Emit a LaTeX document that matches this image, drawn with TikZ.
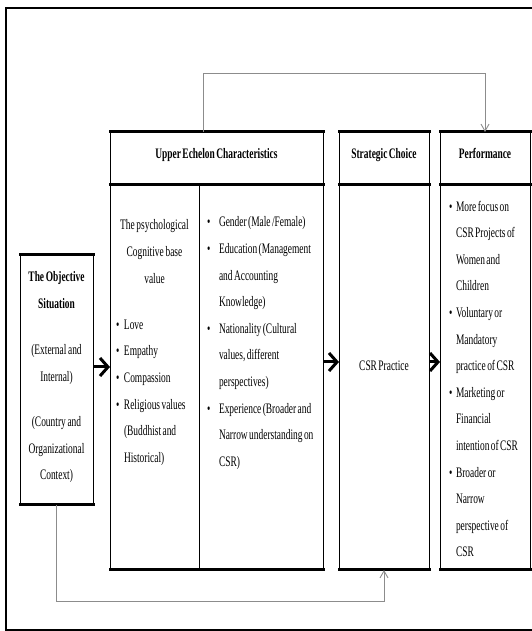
\documentclass[tikz,border=0pt]{standalone}
\usepackage{fontspec}
\setmainfont[FakeStretch=0.65, WordSpace=0.6]{Liberation Serif}
\usetikzlibrary{arrows.meta,positioning}
\newcommand\bitem[2][12pt]{\noindent\hangindent=#1\hangafter=1\rightskip=0pt plus 1fil\spaceskip=0pt\xspaceskip=0pt\makebox[#1][l]{\textbullet}#2\par}

\begin{document}
\begin{tikzpicture}[
    x=1pt, y=1pt,
    every node/.style={font=\fontsize{14.5}{26.6}\selectfont, inner sep=0pt, outer sep=0pt},
    box/.style={draw, line width=1pt},
    head/.style={box, minimum height=53pt, font=\fontsize{14.5}{26.6}\selectfont\bfseries, text height=10pt, text depth=10pt},
    body/.style={box, minimum height=385pt, anchor=north west},
    txt/.style={align=left, text width=#1, anchor=north west},
    rule/.style={line width=3pt, line cap=rect},
    arrow/.style={-{Straight Barb[length=8pt, width=18pt]}, line width=3pt},
    feedback/.style={-{Straight Barb[length=7pt, width=8pt]}, draw=black!45, line width=0.9pt}
]
\useasboundingbox (0,0) rectangle (531,631);
\draw[line width=2.5pt] (6,1) rectangle (560,623);

\node[head, minimum width=213pt] (uechead) at (216.5,472.5) {Upper Echelon Characteristics};
\node[head, minimum width=90pt, right=16pt of uechead] (schead) {Strategic Choice};
\node[head, minimum width=90pt, right=11pt of schead] (perfhead) {Performance};
\node[body, minimum width=89pt] (ueccog) at (uechead.south west) {};
\node[body, minimum width=124pt] (uecdemo) at (ueccog.north east) {};
\node[body, minimum width=90pt] (scbody) at (schead.south west) {};
\node[body, minimum width=90pt] (perfbody) at (perfhead.south west) {};
\node[box, minimum width=73pt, minimum height=250pt] (objective) at (56.5,251) {};

\node[txt=73pt, align=center, anchor=north] (situation) at (56.5,359.2)
    {\spaceskip=0pt{\bfseries The Objective\\Situation}\\[19.5pt](External and\\Internal)\\[19pt](Country and\\Organizational\\Context)};
\node[txt=84pt, align=center, anchor=north] (cogtitle) at (154.5,411.2) {\spaceskip=0pt The psychological\\Cognitive base\\value};
\node[txt=82pt] (cogvalues) at (116,311.2)
    {\bitem[8pt]{Love}\bitem[8pt]{Empathy}\bitem[8pt]{Compassion}\bitem[8pt]{Religious values\newline(Buddhist and\newline Historical)}};
\node[txt=120pt] (demovalues) at (207,414.2)
    {\bitem{Gender (Male /Female)}\bitem{Education (Management\newline and Accounting\newline Knowledge)}\bitem{Nationality (Cultural\newline values, different\newline perspectives)}\bitem{Experience (Broader and\newline Narrow understanding on\newline CSR)}};
\node (practice) at (384,265) {CSR Practice};
\node[txt=90pt] (perfitems) at (449,430.2)
    {\bitem[7pt]{More focus on\newline CSR Projects of\newline Women and\newline Children}\bitem[7pt]{Voluntary or\newline Mandatory\newline practice of CSR}\bitem[7pt]{Marketing or\newline Financial\newline intention of CSR}\bitem[7pt]{Broader or\newline Narrow\newline perspective of\newline CSR}};

\foreach \n in {objective,uechead,schead,perfhead,ueccog,uecdemo,scbody,perfbody}
    \draw[rule] (\n.north west) -- (\n.north east) (\n.south west) -- (\n.south east);

\draw[arrow] ([yshift=13pt]objective.east) -- ([yshift=13pt]objective.east -| ueccog.west);
\draw[arrow] ([yshift=15.5pt]uecdemo.east) -- ([yshift=15.5pt]scbody.west);
\draw[arrow] ([yshift=15.5pt]scbody.east) -- ([yshift=15.5pt]perfbody.west);

\coordinate (toprail) at (0,558);
\coordinate (bottomrail) at (0,30);
\draw[feedback] ([xshift=-13.5pt]uechead.north) |- (toprail -| perfhead.north) -- (perfhead.north);
\draw[feedback] (objective.south) |- (bottomrail -| scbody.south) -- (scbody.south);
\end{tikzpicture}
\end{document}
